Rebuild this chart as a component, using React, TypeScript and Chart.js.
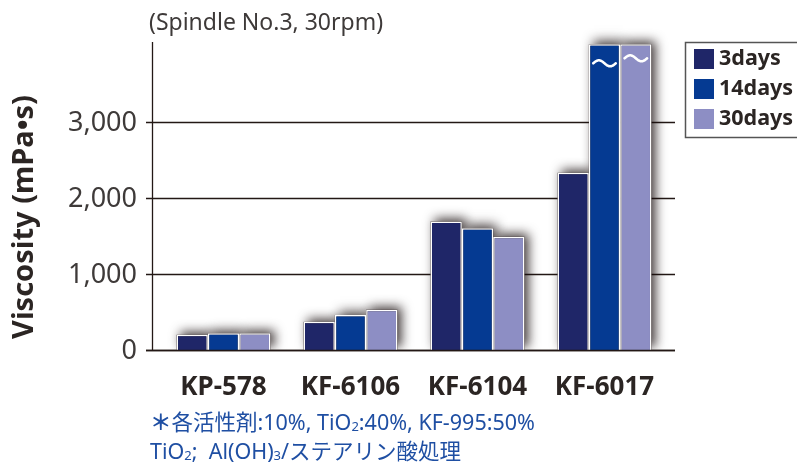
import React, { useEffect, useRef } from "react";
import { Chart, registerables } from "chart.js";

Chart.register(...registerables);

const categories = ["KP-578", "KF-6106", "KF-6104", "KF-6017"];
const seriesLabels = ["3days", "14days", "30days"];
const days3 = [200, 370, 1690, 2330];
const days14 = [220, 460, 1600, 4020];
const days30 = [220, 530, 1490, 4020];
const yTicks = [0, 1000, 2000, 3000];
const yMax = 4050;
const colors = ["#1f2668", "#053a92", "#8d8ec4"];
// bars whose values are cut off at the top: [datasetIndex, categoryIndex]
const brokenBars: [number, number][] = [
  [1, 3],
  [2, 3],
];

const FONT = '"Noto Sans", "Noto Sans CJK JP", sans-serif';
const TEXT = "#2b2523";

function fmt(v: number) {
  return v.toLocaleString("en-US");
}

const customPlugin = {
  id: "custom",
  beforeDatasetsDraw(chart: any) {
    const ctx = chart.ctx;
    const y = chart.scales.y;
    const area = chart.chartArea;
    const axisX = area.left - 8;
    const rightX = area.right + 7;
    const baseY = y.getPixelForValue(0);
    ctx.save();
    ctx.strokeStyle = "#231815";
    ctx.lineWidth = 1.3;
    yTicks.forEach((t) => {
      const py = Math.round(y.getPixelForValue(t)) + 0.5;
      ctx.beginPath();
      ctx.moveTo(axisX - 6, py);
      ctx.lineTo(rightX, py);
      ctx.stroke();
    });
    ctx.beginPath();
    ctx.moveTo(axisX + 0.5, y.getPixelForValue(yMax));
    ctx.lineTo(axisX + 0.5, baseY);
    ctx.stroke();
    ctx.restore();

    // shadows
    ctx.save();
    ctx.beginPath();
    ctx.rect(0, 0, chart.width, baseY);
    ctx.clip();
    ctx.shadowColor = "rgba(20,10,10,0.8)";
    ctx.shadowBlur = 11;
    ctx.shadowOffsetX = 4;
    ctx.shadowOffsetY = -3;
    ctx.fillStyle = "rgba(60,50,50,1)";
    chart.data.datasets.forEach((_: any, di: number) => {
      const meta = chart.getDatasetMeta(di);
      meta.data.forEach((el: any) => {
        const w = el.width;
        ctx.fillRect(el.x - w / 2, el.y, w, el.base - el.y);
      });
    });
    ctx.restore();
  },
  afterDatasetsDraw(chart: any) {
    const ctx = chart.ctx;
    ctx.save();
    ctx.strokeStyle = "#ffffff";
    ctx.lineWidth = 2.6;
    ctx.lineCap = "round";
    brokenBars.forEach(([di, ci], k) => {
      const el = chart.getDatasetMeta(di).data[ci];
      const w = el.width * 0.72;
      const x0 = el.x - w / 2;
      const yc = el.y + (k === 0 ? 19 : 14);
      const amp = 3;
      ctx.beginPath();
      for (let i = 0; i <= 30; i++) {
        const t = i / 30;
        const px = x0 + t * w;
        const py = yc - amp * Math.sin(t * Math.PI * 2);
        if (i === 0) ctx.moveTo(px, py);
        else ctx.lineTo(px, py);
      }
      ctx.stroke();
    });
    ctx.restore();
  },
  afterDraw(chart: any) {
    const ctx = chart.ctx;
    const x = chart.scales.x;
    const y = chart.scales.y;
    const area = chart.chartArea;
    const axisX = area.left - 8;
    const baseY = y.getPixelForValue(0);
    ctx.save();
    ctx.strokeStyle = "#231815";
    ctx.lineWidth = 1.5;
    ctx.beginPath();
    ctx.moveTo(axisX - 6, Math.round(baseY) + 0.5);
    ctx.lineTo(area.right + 7, Math.round(baseY) + 0.5);
    ctx.stroke();

    // y tick labels
    ctx.fillStyle = "#3e3a39";
    ctx.font = `400 27px ${FONT}`;
    ctx.textAlign = "right";
    ctx.textBaseline = "middle";
    yTicks.forEach((t) => {
      ctx.fillText(fmt(t), axisX - 15, y.getPixelForValue(t) + 1);
    });

    // x labels
    ctx.fillStyle = TEXT;
    ctx.font = `700 26px ${FONT}`;
    ctx.textAlign = "center";
    categories.forEach((c, i) => {
      ctx.fillText(c, x.getPixelForValue(i), 388);
    });

    // y title
    ctx.save();
    ctx.translate(25, 217);
    ctx.rotate(-Math.PI / 2);
    ctx.font = `700 29px ${FONT}`;
    ctx.fillStyle = TEXT;
    ctx.textAlign = "center";
    ctx.textBaseline = "middle";
    ctx.fillText("Viscosity (mPa•s)", 0, 0);
    ctx.restore();

    // top note
    ctx.fillStyle = "#3e3a39";
    ctx.font = `400 23px ${FONT}`;
    ctx.textAlign = "left";
    ctx.textBaseline = "middle";
    ctx.fillText("(Spindle No.3, 30rpm)", 149, 23);

    // legend
    ctx.strokeStyle = "#555555";
    ctx.lineWidth = 1.5;
    ctx.strokeRect(685.5, 42.5, 120, 95);
    ctx.font = `700 21.5px ${FONT}`;
    chart.data.datasets.forEach((ds: any, i: number) => {
      const top = 49 + i * 30;
      ctx.fillStyle = ds.backgroundColor;
      ctx.fillRect(694, top, 20, 20);
      ctx.fillStyle = TEXT;
      ctx.textAlign = "left";
      ctx.textBaseline = "middle";
      ctx.fillText(ds.label, 719, top + 10);
    });
    ctx.restore();
  },
};

export default function App() {
  const ref = useRef<HTMLCanvasElement>(null);
  useEffect(() => {
    if (!ref.current) return;
    const chart = new Chart(ref.current, {
      type: "bar",
      data: {
        labels: categories,
        datasets: [days3, days14, days30].map((d, i) => ({
          label: seriesLabels[i],
          data: d,
          backgroundColor: colors[i],
          borderColor: "#ffffff",
          borderWidth: 1.5,
          borderSkipped: "bottom",
          barPercentage: 1,
          categoryPercentage: 0.74,
        })),
      },
      options: {
        animation: false,
        responsive: true,
        maintainAspectRatio: false,
        layout: { padding: { left: 160, right: 129, top: 42, bottom: 117 } },
        plugins: { legend: { display: false }, tooltip: { enabled: false } },
        scales: {
          x: { display: false, offset: true },
          y: { display: false, min: 0, max: yMax },
        },
      },
      plugins: [customPlugin],
    });
    return () => chart.destroy();
  }, []);

  const noteStyle: React.CSSProperties = {
    position: "absolute",
    left: 150,
    fontFamily: '"Noto Sans", "Noto Sans CJK JP", sans-serif',
    fontSize: 21.5,
    color: "#1f4fa3",
    whiteSpace: "nowrap",
    lineHeight: "26px",
  };
  const sub: React.CSSProperties = { fontSize: 13, verticalAlign: "-1px" };

  return (
    <div style={{ position: "absolute", left: 0, top: 0, width: 797, height: 467, background: "#fff", overflow: "hidden" }}>
      <canvas ref={ref} style={{ position: "absolute", left: 0, top: 0, width: 797, height: 467 }} />
      <div style={{ ...noteStyle, top: 409 }}>
        <span style={{ fontWeight: 700 }}>＊</span>各活性剤:10%, TiO<span style={sub}>2</span>:40%, KF-995:50%
      </div>
      <div style={{ ...noteStyle, top: 438 }}>
        TiO<span style={sub}>2</span>;&nbsp; Al(OH)<span style={sub}>3</span>/ステアリン酸処理
      </div>
    </div>
  );
}
